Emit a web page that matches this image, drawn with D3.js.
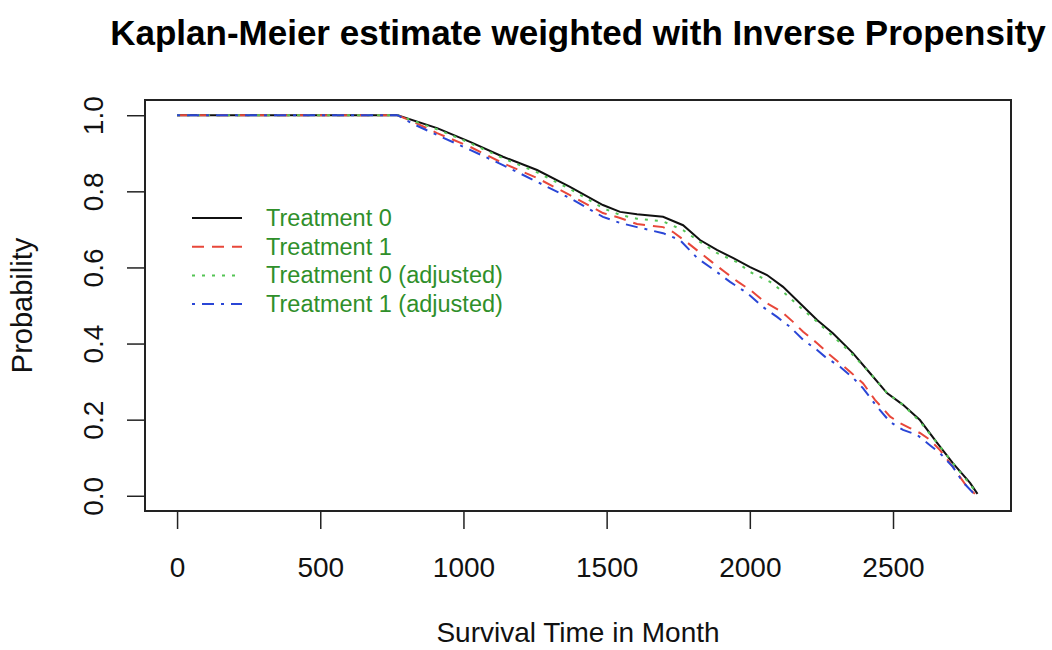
<!DOCTYPE html>
<html>
<head>
<meta charset="utf-8">
<script src="https://cdn.jsdelivr.net/npm/d3@7"></script>
<style>
  body { margin: 0; background: #fff; }
  svg { font-family: "Liberation Sans", Arial, sans-serif; }
</style>
</head>
<body>
<svg id="chart" width="1052" height="650"></svg>
<script>
// values
const seriesNames = ['Treatment 0', 'Treatment 1', 'Treatment 0 (adjusted)', 'Treatment 1 (adjusted)']

const t0Time = [0, 770, 908, 1023, 1138, 1257, 1372, 1487, 1547, 1606, 1697, 1767, 1826, 1885, 1941, 2001, 2060, 2116, 2175, 2235, 2290, 2360, 2420, 2479, 2535, 2594, 2654, 2709, 2769, 2795]
const t0Surv = [1, 1, 0.966, 0.930, 0.891, 0.856, 0.812, 0.764, 0.746, 0.740, 0.733, 0.711, 0.672, 0.646, 0.625, 0.601, 0.580, 0.549, 0.506, 0.462, 0.427, 0.375, 0.322, 0.270, 0.239, 0.199, 0.139, 0.086, 0.034, 0.005]

const t1Time = [0, 770, 824, 908, 1023, 1138, 1257, 1372, 1487, 1547, 1606, 1697, 1732, 1784, 1868, 1913, 1959, 2001, 2053, 2112, 2151, 2186, 2235, 2280, 2350, 2395, 2437, 2490, 2525, 2559, 2594, 2629, 2664, 2709, 2758, 2786]
const t1Surv = [1, 1, 0.983, 0.953, 0.917, 0.874, 0.835, 0.790, 0.743, 0.730, 0.714, 0.706, 0.693, 0.664, 0.614, 0.588, 0.562, 0.541, 0.509, 0.483, 0.457, 0.431, 0.401, 0.370, 0.326, 0.296, 0.252, 0.208, 0.191, 0.178, 0.165, 0.147, 0.120, 0.076, 0.024, 0.005]

const a0Time = [0, 770, 908, 1023, 1138, 1257, 1372, 1487, 1547, 1606, 1697, 1767, 1826, 1885, 1955, 2001, 2071, 2116, 2175, 2235, 2304, 2350, 2420, 2479, 2535, 2594, 2654, 2709, 2769, 2795]
const a0Surv = [1, 1, 0.963, 0.927, 0.887, 0.850, 0.806, 0.756, 0.738, 0.728, 0.721, 0.698, 0.667, 0.638, 0.614, 0.588, 0.562, 0.536, 0.496, 0.457, 0.410, 0.378, 0.322, 0.270, 0.239, 0.195, 0.139, 0.086, 0.030, 0.005]

const a1Time = [0, 770, 824, 908, 1023, 1138, 1257, 1372, 1487, 1547, 1606, 1697, 1756, 1816, 1885, 1931, 1990, 2046, 2095, 2140, 2186, 2235, 2263, 2315, 2360, 2395, 2444, 2490, 2535, 2584, 2629, 2664, 2709, 2744, 2779, 2797]
const a1Surv = [1, 1, 0.977, 0.948, 0.909, 0.869, 0.825, 0.782, 0.733, 0.717, 0.706, 0.690, 0.672, 0.625, 0.588, 0.562, 0.533, 0.496, 0.470, 0.444, 0.410, 0.383, 0.365, 0.339, 0.310, 0.283, 0.234, 0.194, 0.173, 0.160, 0.133, 0.112, 0.076, 0.036, 0.008, 0.003]

const xTicks = [0, 500, 1000, 1500, 2000, 2500]
const yTicks = [0, 0.2, 0.4, 0.6, 0.8, 1.0]

const colors = ['#111111', '#e8473a', '#55c455', '#2a46d6']
const dashes = ['none', '12,8', '3,7', '3,7,12,7']

const svg = d3.select('#chart')
const box = { left: 145, right: 1011, top: 100, bottom: 511 }

// R style 4% extension on both axes
const x = d3.scaleLinear().domain([-112, 2912]).range([box.left, box.right])
const y = d3.scaleLinear().domain([-0.04, 1.04]).range([box.bottom, box.top])

svg.append('text')
  .attr('x', (box.left + box.right) / 2)
  .attr('y', 45)
  .attr('text-anchor', 'middle')
  .attr('font-weight', 'bold')
  .attr('font-size', 35)
  .text('Kaplan-Meier estimate weighted with Inverse Propensity')

// curves
const series = [
  { time: t0Time, surv: t0Surv },
  { time: t1Time, surv: t1Surv },
  { time: a0Time, surv: a0Surv },
  { time: a1Time, surv: a1Surv }
]
const line = d3.line()
  .x(d => x(d[0]))
  .y(d => y(d[1]))

svg.append('g')
  .selectAll('path')
  .data(series)
  .enter().append('path')
  .attr('d', s => line(d3.zip(s.time, s.surv)))
  .attr('fill', 'none')
  .attr('stroke', (_, i) => colors[i])
  .attr('stroke-width', 2)
  .attr('stroke-dasharray', (_, i) => dashes[i])

// box
svg.append('rect')
  .attr('x', box.left)
  .attr('y', box.top)
  .attr('width', box.right - box.left)
  .attr('height', box.bottom - box.top)
  .attr('fill', 'none')
  .attr('stroke', '#222')
  .attr('stroke-width', 2)

// axes
const xAxis = svg.append('g')
  .attr('transform', `translate(0,${box.bottom})`)
  .call(d3.axisBottom(x).tickValues(xTicks).tickSize(18).tickFormat(d3.format('d')))
xAxis.select('.domain').remove()
xAxis.selectAll('line').attr('stroke', '#222').attr('stroke-width', 1.5)
xAxis.selectAll('text')
  .attr('y', 66).attr('dy', 0)
  .attr('font-size', 28)
  .attr('font-family', '"Liberation Sans", Arial, sans-serif')
  .attr('fill', '#111')

const yAxis = svg.append('g')
  .attr('transform', `translate(${box.left},0)`)
  .call(d3.axisLeft(y).tickValues(yTicks).tickSize(18).tickFormat(d3.format('.1f')))
yAxis.select('.domain').remove()
yAxis.selectAll('line').attr('stroke', '#222').attr('stroke-width', 1.5)
yAxis.selectAll('text')
  .attr('x', 0).attr('dy', 0)
  .attr('transform', 'translate(-42,0) rotate(-90)')
  .attr('text-anchor', 'middle')
  .attr('font-size', 28)
  .attr('font-family', '"Liberation Sans", Arial, sans-serif')
  .attr('fill', '#111')

svg.append('text')
  .attr('x', (box.left + box.right) / 2)
  .attr('y', 642)
  .attr('text-anchor', 'middle')
  .attr('font-size', 28)
  .attr('fill', '#111')
  .text('Survival Time in Month')

svg.append('text')
  .attr('transform', `translate(32,${(box.top + box.bottom) / 2}) rotate(-90)`)
  .attr('text-anchor', 'middle')
  .attr('font-size', 29)
  .attr('fill', '#111')
  .text('Probability')

// legend
const legend = svg.append('g')
  .selectAll('g')
  .data(seriesNames)
  .enter().append('g')
  .attr('transform', (_, i) => `translate(192,${218 + i * 28.7})`)

legend.append('line')
  .attr('x1', 0).attr('x2', 50)
  .attr('stroke', (_, i) => colors[i])
  .attr('stroke-width', 2)
  .attr('stroke-dasharray', (_, i) => dashes[i])

legend.append('text')
  .attr('x', 74)
  .attr('y', 8)
  .attr('font-size', 23.5)
  .attr('fill', '#2f8f2a')
  .text(d => d)
</script>
</body>
</html>
